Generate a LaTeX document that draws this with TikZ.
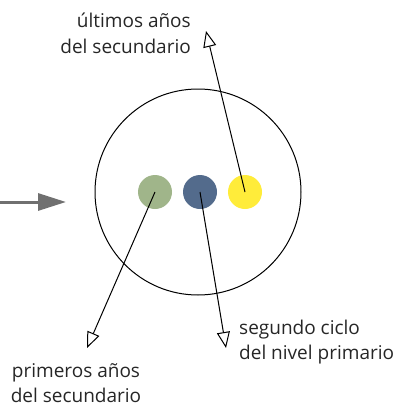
\documentclass[tikz,border=0pt]{standalone}
\usepackage{fontspec}
\setmainfont{Open Sans}
\usetikzlibrary{arrows.meta}
\definecolor{dotgreen}{HTML}{A0B58A}
\definecolor{dotblue}{HTML}{536B8C}
\definecolor{dotyellow}{HTML}{FFEC3A}
\definecolor{arrgray}{HTML}{707070}
\begin{document}
\begin{tikzpicture}[x=1pt,y=-1pt,
  dot/.style={circle,minimum size=34pt,inner sep=0pt},
  lbl/.style={font=\fontsize{19}{25.5}\selectfont,inner sep=0pt,text=black!85},
  pointer/.style={line width=1pt,-{Triangle[open,length=16pt,width=13pt,line width=1pt]}}]
\useasboundingbox (0,0) rectangle (398,407);
\node[draw,circle,minimum size=206pt,inner sep=0pt,line width=1pt] (ring) at (198,192) {};
\node[dot,fill=dotgreen] (g) at (155,192) {};
\node[dot,fill=dotblue] (b) at (200,192) {};
\node[dot,fill=dotyellow] (y) at (245,192) {};
\coordinate (yt) at (206,31);
\coordinate (gt) at (87,348);
\coordinate (bt) at (226,348);
\draw[pointer] (y.center) -- (yt);
\draw[pointer] (g.center) -- (gt);
\draw[pointer] (b.center) -- (bt);
\coordinate (s) at (0,202);
\coordinate (e) at (66,202);
\draw[arrgray,line width=3pt,-{Triangle[length=28pt,width=17pt]}] (s) -- (e);
\node[lbl,align=right,anchor=north east] (t1) at (191,13) {últimos años\\del secundario};
\node[lbl,align=left,anchor=north west] (t2) at (239,319.5) {segundo ciclo\\del nivel primario};
\node[lbl,align=center,anchor=north] (t3) at (76,363) {primeros años\\del secundario};
\end{tikzpicture}
\end{document}
